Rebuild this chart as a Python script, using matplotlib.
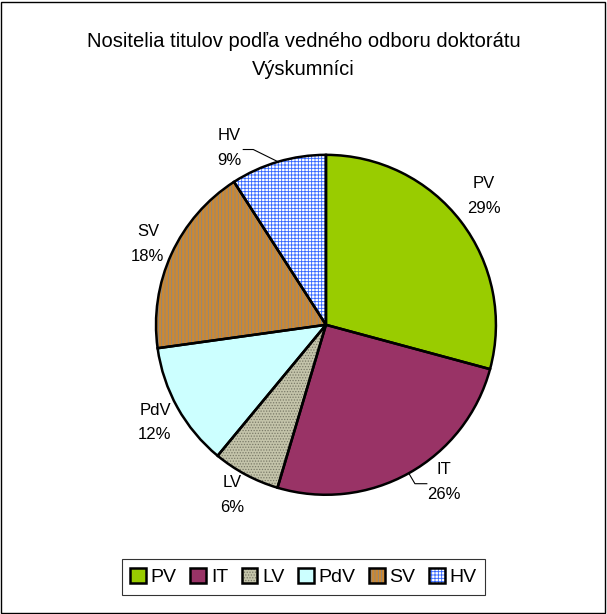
import numpy as np
import matplotlib.pyplot as plt
from matplotlib.patches import Patch, Rectangle

plt.rcParams["font.family"] = ["Liberation Sans", "DejaVu Sans"]
plt.rcParams["hatch.linewidth"] = 0.6

labels = ["PV", "IT", "LV", "PdV", "SV", "HV"]
shares = [29.2, 25.4, 6.4, 11.8, 18.1, 9.1]
pct_text = ["29%", "26%", "6%", "12%", "18%", "9%"]

face = ["#99cc00", "#993366", "#c4c4aa", "#ccffff", "#cc8833", "#ffffff"]
hatch = [None, None, "......", None, "|||||", "+++++"]
hatch_col = ["#99cc00", "#993366", "#7a7a68", "#ccffff", "#888888", "#3366ff"]

fig = plt.figure(figsize=(6.07, 6.14), dpi=100)
fig.patches.append(Rectangle((0.002, 0.002), 0.995, 0.995, transform=fig.transFigure,
                             fill=False, edgecolor="black", linewidth=1))

ax = fig.add_axes([0.173, 0.111, 0.728, 0.72])

# filled + hatched wedges
wedges, _ = ax.pie(shares, startangle=90, counterclock=False, radius=1,
                   colors=face, wedgeprops=dict(linewidth=0))
for w, h, hc in zip(wedges, hatch, hatch_col):
    w.set_edgecolor(hc)
    if h:
        w.set_hatch(h)
# black outlines on top
ax.pie(shares, startangle=90, counterclock=False, radius=1,
       colors=["none"] * 6,
       wedgeprops=dict(edgecolor="black", linewidth=1.8, fill=False))
ax.set_xlim(-1.3, 1.3)
ax.set_ylim(-1.3, 1.3)
ax.set_aspect("equal")
ax.axis("off")

# label placement (distance, angle shift in degrees)
lab_dist = [1.20, 1.156, 1.143, 1.159, 1.15, 1.187]
lab_shift = [1.8, 7.7, -0.8, 0.6, 0.3, 12.3]
lab_pos = []
for w, lab, pt, d, s in zip(wedges, labels, pct_text, lab_dist, lab_shift):
    mid = np.deg2rad((w.theta1 + w.theta2) / 2 + s)
    x, y = d * np.cos(mid), d * np.sin(mid)
    lab_pos.append((x, y))
    ax.text(x, y, lab + "\n" + pt, ha="center", va="center",
            fontsize=12, linespacing=1.8)

# leader lines for HV and IT
for i, (x0, x1) in {5: (0.083, 0.142), 1: (-0.10, -0.17)}.items():
    w = wedges[i]
    mid = np.deg2rad((w.theta1 + w.theta2) / 2)
    lx, ly = lab_pos[i]
    ax.plot([lx + x0, lx + x1, np.cos(mid)], [ly - 0.01, ly - 0.01, np.sin(mid)],
            color="black", lw=0.8)

fig.text(0.5, 0.909, "Nositelia titulov podľa vedného odboru doktorátu\nVýskumníci",
         ha="center", va="center", fontsize=14.5, linespacing=1.6)

handles = []
for fc, h, hc in zip(face, hatch, hatch_col):
    handles.append((Patch(facecolor=fc, edgecolor=hc, hatch=h, linewidth=0),
                    Patch(facecolor="none", edgecolor="black", linewidth=1.8)))
leg = fig.legend(handles, labels, loc="center", bbox_to_anchor=(0.5, 0.06),
                 ncol=6, fontsize=14, frameon=True, fancybox=False,
                 handlelength=0.8, handleheight=0.8, handletextpad=0.25,
                 columnspacing=0.7, borderpad=0.45)
leg.get_frame().set_edgecolor("black")
leg.get_frame().set_linewidth(0.8)

fig.savefig("out.png", dpi=100)
